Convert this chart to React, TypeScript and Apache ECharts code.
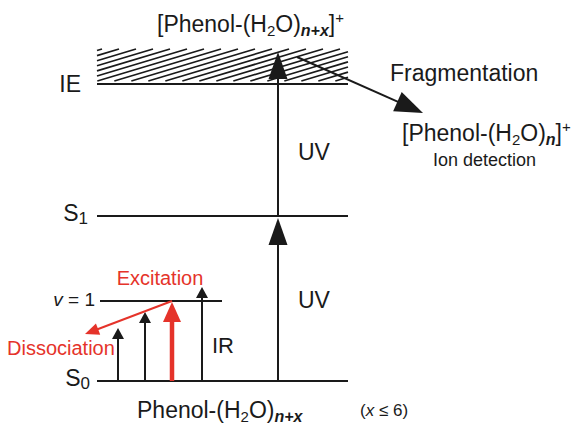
import React, { useEffect, useRef } from 'react';
import * as echarts from 'echarts';

// Diagram units: x 0–586 (arbitrary), energy 0–424 (arbitrary, bottom = 0)
const levelNames = ['S0', 'v = 1', 'S1', 'IE'];
const levelEnergy = [43, 123, 208, 340];
const levelXStart = [97, 100, 97, 97];
const levelXEnd = [348, 222, 348, 348];

// Ionisation continuum band (hatched)
const bandX = [97, 348];
const bandEnergy = [343, 375];

// Transitions (arrows)
const arrowX1 = [278, 278, 118, 145, 172, 202, 172, 297];
const arrowE1 = [43, 208, 43, 43, 43, 43, 123, 367];
const arrowX2 = [278, 278, 118, 145, 172, 202, 85, 423];
const arrowE2 = [206, 372, 96, 112, 122, 137, 90, 311];
const arrowKind = ['uv', 'uv', 'ir', 'ir', 'exc', 'ir', 'dis', 'frag'];

const RED = '#e5332a';
const INK = '#1a1a1a';
const FONT = '"Liberation Sans", Arial, Helvetica, sans-serif';

const arrowStyle: Record<string, { head: number; w: number; lw: number; color: string }> = {
  uv: { head: 27, w: 19, lw: 2, color: INK },
  ir: { head: 11, w: 12, lw: 2, color: INK },
  exc: { head: 20, w: 18, lw: 4.5, color: RED },
  dis: { head: 14, w: 12, lw: 2, color: RED },
  frag: { head: 28, w: 21, lw: 2, color: INK },
};

const mainRich = (size: number, color: string) => ({
  m: { fontSize: size, lineHeight: 28, fontFamily: FONT, color, verticalAlign: 'middle' },
  s: { fontSize: 15, lineHeight: 12, fontFamily: FONT, color, verticalAlign: 'bottom' },
  i: { fontSize: 16, lineHeight: 12, fontFamily: FONT, color, fontStyle: 'italic', fontWeight: 'bold', verticalAlign: 'bottom' },
  p: { fontSize: 15, lineHeight: 12, fontFamily: FONT, color, verticalAlign: 'top' },
  l: { fontSize: 17, lineHeight: 8, fontFamily: FONT, color, verticalAlign: 'bottom' },
  it: { fontSize: size, lineHeight: 28, fontFamily: FONT, color, fontStyle: 'italic', verticalAlign: 'middle' },
});

function txt(text: string, x: number, y: number, size: number, color: string, align: string = 'left') {
  return {
    type: 'text',
    x,
    y,
    silent: true,
    style: {
      text,
      rich: mainRich(size, color),
      align,
      verticalAlign: 'middle',
      fill: color,
      font: `${size}px ${FONT}`,
    },
  };
}

export default function App() {
  const ref = useRef<HTMLDivElement>(null);
  useEffect(() => {
    if (!ref.current) return;
    const chart = echarts.init(ref.current, undefined, { renderer: 'svg' });

    const levelData = levelNames.map((n, i) => [levelXStart[i], levelEnergy[i], levelXEnd[i], n]);
    const arrowData = arrowX1.map((x, i) => [x, arrowE1[i], arrowX2[i], arrowE2[i]]);

    const option: any = {
      animation: false,
      backgroundColor: '#ffffff',
      grid: { left: 0, right: 0, top: 0, bottom: 0 },
      xAxis: { type: 'value', min: 0, max: 586, show: false },
      yAxis: { type: 'value', min: 0, max: 424, show: false },
      series: [
        {
          type: 'custom',
          name: 'band',
          clip: false,
          silent: true,
          data: [[bandX[0], bandEnergy[0], bandX[1], bandEnergy[1]]],
          encode: { x: [0, 2], y: [1, 3] },
          renderItem: (_p: any, api: any) => {
            const tl = api.coord([api.value(0), api.value(3)]);
            const br = api.coord([api.value(2), api.value(1)]);
            const L = tl[0], R = br[0], T = tl[1], B = br[1];
            const s = 0.3;
            const gap = 5.1;
            const children: any[] = [];
            for (let b = T + 1.5; b < B + s * (R - L) + gap; b += gap) {
              const xa = Math.max(L, L + (b - B) / s);
              const xb = Math.min(R, L + (b - T) / s);
              if (xb > xa + 0.5) {
                children.push({
                  type: 'line',
                  shape: { x1: xa, y1: b - s * (xa - L), x2: xb, y2: b - s * (xb - L) },
                  style: { stroke: INK, lineWidth: 1.7 },
                });
              }
            }
            return { type: 'group', children };
          },
        },
        {
          type: 'custom',
          name: 'levels',
          clip: false,
          silent: true,
          data: levelData,
          encode: { x: [0, 2], y: 1 },
          renderItem: (_p: any, api: any) => {
            const a = api.coord([api.value(0), api.value(1)]);
            const b = api.coord([api.value(2), api.value(1)]);
            return {
              type: 'line',
              shape: { x1: a[0], y1: a[1], x2: b[0], y2: b[1] },
              style: { stroke: INK, lineWidth: 2 },
            };
          },
        },
        {
          type: 'custom',
          name: 'transitions',
          clip: false,
          silent: true,
          data: arrowData,
          encode: { x: [0, 2], y: [1, 3] },
          renderItem: (params: any, api: any) => {
            const p1 = api.coord([api.value(0), api.value(1)]);
            const p2 = api.coord([api.value(2), api.value(3)]);
            const st = arrowStyle[arrowKind[params.dataIndex]];
            const dx = p2[0] - p1[0];
            const dy = p2[1] - p1[1];
            const len = Math.hypot(dx, dy);
            const ux = dx / len, uy = dy / len;
            const bx = p2[0] - ux * st.head, by = p2[1] - uy * st.head;
            const nx = -uy, ny = ux;
            return {
              type: 'group',
              children: [
                {
                  type: 'line',
                  shape: { x1: p1[0], y1: p1[1], x2: bx + ux * 2, y2: by + uy * 2 },
                  style: { stroke: st.color, lineWidth: st.lw },
                },
                {
                  type: 'polygon',
                  shape: {
                    points: [
                      [p2[0], p2[1]],
                      [bx + (nx * st.w) / 2, by + (ny * st.w) / 2],
                      [bx - (nx * st.w) / 2, by - (ny * st.w) / 2],
                    ],
                  },
                  style: { fill: st.color },
                },
              ],
            };
          },
        },
      ],
      graphic: [
        txt('{m|[Phenol-(H}{s|2}{m|O)}{i|n+x}{m|]}{p|+}', 157, 24, 23, INK),
        txt('{m|IE}', 81, 84, 23, INK, 'right'),
        txt('{m|S}{l|1}', 88, 213, 23, INK, 'right'),
        txt('{it|v}{m| = 1}', 95, 299, 19, INK, 'right'),
        txt('{m|S}{l|0}', 90, 378, 23, INK, 'right'),
        txt('{m|UV}', 298, 152, 23, INK),
        txt('{m|UV}', 298, 300, 23, INK),
        txt('{m|IR}', 212, 345, 22, INK),
        txt('{m|Excitation}', 160, 278, 20, RED, 'center'),
        txt('{m|Dissociation}', 7, 348, 20, RED),
        txt('{m|Fragmentation}', 390, 73, 23, INK),
        txt('{m|[Phenol-(H}{s|2}{m|O)}{i|n}{m|]}{p|+}', 402, 133, 23, INK),
        txt('{m|Ion detection}', 433, 160, 18, INK),
        txt('{m|Phenol-(H}{s|2}{m|O)}{i|n+x}', 137, 410, 23, INK),
        txt('{m|(}{it|x}{m| ≤ 6)}', 360, 410, 17, INK),
      ],
    };
    chart.setOption(option);
    return () => chart.dispose();
  }, []);
  return (
    <div
      ref={ref}
      style={{ position: 'absolute', left: 0, top: 0, width: 586, height: 424 }}
    />
  );
}
